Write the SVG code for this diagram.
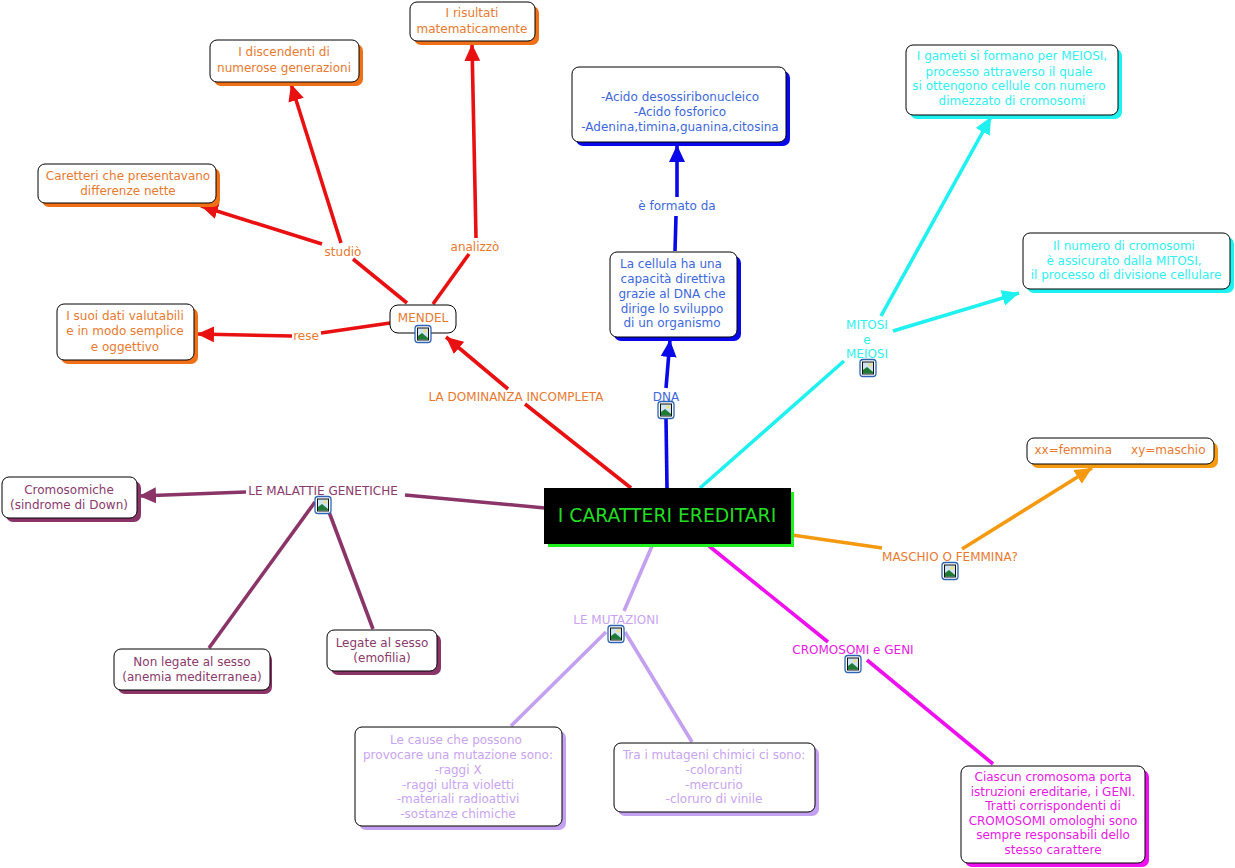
<svg xmlns="http://www.w3.org/2000/svg" width="1235" height="868" viewBox="0 0 1235 868">
<style>
text{font-family:"DejaVu Sans",Verdana,sans-serif;font-size:12px;text-anchor:middle}
.b{fill:#fff;stroke:#000;stroke-width:1}
.c{fill:none;stroke-width:3.600}
.o{fill:#e87a30}.bl{fill:#4068dc}.cy{fill:#30f0f0}.pu{fill:#8a3a6c}.li{fill:#c8a4f2}.ma{fill:#e818e4}
</style>
<defs>
<g id="icon">
<rect x="-8" y="-8.500" width="16" height="17" rx="3" fill="#fff" stroke="#2f64b4" stroke-width="1.300"/>
<rect x="-5.500" y="-6" width="11" height="12" fill="#cfe4f5" stroke="#111" stroke-width="1"/>
<circle cx="2" cy="-3" r="1.800" fill="#f0e080"/>
<path d="M-5 5.500L-5 2L-1 -1L5 4L5 5.500Z" fill="#1f7a35"/>
</g>
<marker id="ar" markerUnits="userSpaceOnUse" markerWidth="18" markerHeight="16" refX="17" refY="8" orient="auto"><path d="M0 0L17 8L0 16Z" fill="context-stroke"/></marker>
</defs>
<g id="connectors">
<g class="c" stroke="#e81010">
<path d="M631 488L525 404"/>
<path d="M508 389L446 337" marker-end="url(#ar)"/>
<path d="M407 303L353 259"/>
<path d="M322 244L201 206" marker-end="url(#ar)"/>
<path d="M341 243L291 84" marker-end="url(#ar)"/>
<path d="M433 304L469 254"/>
<path d="M476 238L472 44" marker-end="url(#ar)"/>
<path d="M390 323L321 333"/>
<path d="M292 336L197 334" marker-end="url(#ar)"/>
</g>
<g class="c" stroke="#0808e8">
<path d="M667 488L666 418"/>
<path d="M666 388L670 340" marker-end="url(#ar)"/>
<path d="M675 251L676 216"/>
<path d="M677 197L677 145" marker-end="url(#ar)"/>
</g>
<g class="c" stroke="#1ff0f0">
<path d="M700 488L844 361"/>
<path d="M881 316L991 117" marker-end="url(#ar)"/>
<path d="M893 331L1019 293" marker-end="url(#ar)"/>
</g>
<g class="c" stroke="#f59a10">
<path d="M792 535L882 548"/>
<path d="M962 549L1092 468" marker-end="url(#ar)"/>
</g>
<g class="c" stroke="#ee10ee">
<path d="M709 546L828 642"/>
<path d="M867 660L993 764"/>
</g>
<g class="c" stroke="#c4a0f0">
<path d="M652 546L624 611"/>
<path d="M606 632L511 726"/>
<path d="M625 632L692 742"/>
</g>
<g class="c" stroke="#8a3468">
<path d="M545 508L405 495"/>
<path d="M246 492L139 496" marker-end="url(#ar)"/>
<path d="M315 502L209 648"/>
<path d="M329 512L373 629"/>
</g>
</g>
<g id="n-center"><rect x="548" y="492" width="246" height="55" fill="#1ff01f"/><rect x="544" y="488" width="247" height="56" fill="#000"/><text x="667" y="522" style="font-size:18.800px" fill="#22dd22">I CARATTERI EREDITARI</text></g>
<g id="n-mendel"><rect class="b" x="390" y="305" width="66" height="28" rx="8"/><text class="o" x="423" y="322">MENDEL</text><use href="#icon" x="423" y="334"/></g>
<g id="n-dominanza"><text class="o" x="516" y="401">LA DOMINANZA INCOMPLETA</text></g>
<g id="n-dna"><text class="bl" x="666" y="401">DNA</text><use href="#icon" x="666" y="410"/></g>
<g id="n-formato"><text class="bl" x="677" y="210">è formato da</text></g>
<g id="n-studio"><text class="o" x="343" y="256">studiò</text></g>
<g id="n-analizzo"><text class="o" x="475" y="251">analizzò</text></g>
<g id="n-rese"><text class="o" x="306" y="340">rese</text></g>
<g id="n-risultati"><rect x="414" y="6" width="125" height="39" rx="7" fill="#f07018"/><rect class="b" x="410" y="2" width="125" height="39" rx="7"/><text class="o" x="472" y="17">I risultati</text><text class="o" x="472" y="33">matematicamente</text></g>
<g id="n-discendenti"><rect x="214" y="44" width="149" height="42" rx="7" fill="#f07018"/><rect class="b" x="210" y="40" width="149" height="42" rx="7"/><text class="o" x="284" y="56">I discendenti di</text><text class="o" x="284" y="72">numerose generazioni</text></g>
<g id="n-caretteri"><rect x="42" y="168" width="178" height="39" rx="7" fill="#f07018"/><rect class="b" x="38" y="164" width="178" height="39" rx="7"/><text class="o" x="128" y="180">Caretteri che presentavano</text><text class="o" x="128" y="195">differenze nette</text></g>
<g id="n-dati"><rect x="61" y="308" width="137" height="56" rx="7" fill="#f07018"/><rect class="b" x="57" y="304" width="137" height="56" rx="7"/><text class="o" x="125" y="320">I suoi dati valutabili</text><text class="o" x="125" y="335">e in modo semplice</text><text class="o" x="125" y="351">e oggettivo</text></g>
<g id="n-acido"><rect x="576" y="71" width="214" height="75" rx="7" fill="#0808e8"/><rect class="b" x="572" y="67" width="214" height="75" rx="7"/><text class="bl" x="680" y="101">-Acido desossiribonucleico</text><text class="bl" x="680" y="116">-Acido fosforico</text><text class="bl" x="680" y="131">-Adenina,timina,guanina,citosina</text></g>
<g id="n-cellula"><rect x="614" y="256" width="127" height="85" rx="7" fill="#0808e8"/><rect class="b" x="610" y="252" width="127" height="85" rx="7"/><text class="bl" x="671" y="268">La cellula ha una</text><text class="bl" x="673" y="283">capacità direttiva</text><text class="bl" x="672" y="298">grazie al DNA che</text><text class="bl" x="672" y="313">dirige lo sviluppo</text><text class="bl" x="672" y="327">di un organismo</text></g>
<g id="n-gameti"><rect x="910" y="49" width="212" height="70" rx="7" fill="#1ff0f0"/><rect class="b" x="906" y="45" width="212" height="70" rx="7"/><g class="cy"><text x="1012" y="60">I gameti si formano per MEIOSI,</text><text x="1009" y="76">processo attraverso il quale</text><text x="1009" y="90">si ottengono cellule con numero</text><text x="1012" y="105">dimezzato di cromosomi</text></g></g>
<g id="n-numero"><rect x="1027" y="237" width="207" height="56" rx="7" fill="#1ff0f0"/><rect class="b" x="1023" y="233" width="207" height="56" rx="7"/><g class="cy"><text x="1124" y="250">Il numero di cromosomi</text><text x="1124" y="265">è assicurato dalla MITOSI,</text><text x="1126" y="279">il processo di divisione cellulare</text></g></g>
<g id="n-mitosi" class="cy"><text x="867" y="329">MITOSI</text><text x="867" y="344">e</text><text x="867" y="358">MEIOSI</text><use href="#icon" x="868" y="368"/></g>
<g id="n-sesso"><rect x="1031" y="442" width="187" height="26" rx="7" fill="#f59a10"/><rect class="b" x="1027" y="438" width="187" height="26" rx="7"/><text class="o" xml:space="preserve" x="1120" y="454">xx=femmina     xy=maschio</text></g>
<g id="n-maschio"><text class="o" x="950" y="561">MASCHIO O FEMMINA?</text><use href="#icon" x="950" y="571"/></g>
<g id="n-cromosomi"><text class="ma" x="853" y="654">CROMOSOMI e GENI</text><use href="#icon" x="853" y="664"/></g>
<g id="n-ciascun"><rect x="965" y="770" width="184" height="97" rx="7" fill="#ee10ee"/><rect class="b" x="961" y="766" width="184" height="97" rx="7"/><g class="ma"><text x="1053" y="781">Ciascun cromosoma porta</text><text x="1053" y="796">istruzioni ereditarie, i GENI.</text><text x="1053" y="810">Tratti corrispondenti di</text><text x="1053" y="825">CROMOSOMI omologhi sono</text><text x="1053" y="839">sempre responsabili dello</text><text x="1053" y="854">stesso carattere</text></g></g>
<g id="n-mutazioni"><text class="li" x="616" y="624">LE MUTAZIONI</text><use href="#icon" x="616" y="634"/></g>
<g id="n-cause"><rect x="359" y="731" width="207" height="99" rx="7" fill="#c4a0f0"/><rect class="b" x="355" y="727" width="207" height="99" rx="7"/><g class="li"><text x="456" y="744">Le cause che possono</text><text x="458" y="759">provocare una mutazione sono:</text><text x="458" y="774">-raggi X</text><text x="458" y="789">-raggi ultra violetti</text><text x="458" y="803">-materiali radioattivi</text><text x="458" y="818">-sostanze chimiche</text></g></g>
<g id="n-mutageni"><rect x="618" y="747" width="201" height="69" rx="7" fill="#c4a0f0"/><rect class="b" x="614" y="743" width="201" height="69" rx="7"/><g class="li"><text x="714" y="759">Tra i mutageni chimici ci sono:</text><text x="714" y="774">-coloranti</text><text x="714" y="789">-mercurio</text><text x="714" y="803">-cloruro di vinile</text></g></g>
<g id="n-malattie"><text class="pu" x="323" y="495">LE MALATTIE GENETICHE</text><use href="#icon" x="323" y="505"/></g>
<g id="n-cromosomiche"><rect x="6" y="481" width="135" height="41" rx="7" fill="#8a3468"/><rect class="b" x="2" y="477" width="135" height="41" rx="7"/><text class="pu" x="69" y="494">Cromosomiche</text><text class="pu" x="69" y="509">(sindrome di Down)</text></g>
<g id="n-nonlegate"><rect x="118" y="653" width="154" height="41" rx="7" fill="#8a3468"/><rect class="b" x="114" y="649" width="156" height="41" rx="7"/><text class="pu" x="192" y="666">Non legate al sesso</text><text class="pu" x="192" y="681">(anemia mediterranea)</text></g>
<g id="n-legate"><rect x="331" y="634" width="110" height="41" rx="7" fill="#8a3468"/><rect class="b" x="327" y="630" width="110" height="41" rx="7"/><text class="pu" x="382" y="647">Legate al sesso</text><text class="pu" x="382" y="662">(emofilia)</text></g>
</svg>
